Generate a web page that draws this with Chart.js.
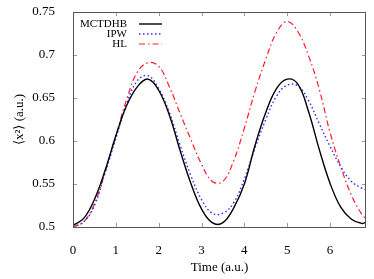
<!DOCTYPE html>
<html>
<head>
<meta charset="utf-8">
<script src="https://cdn.jsdelivr.net/npm/chart.js@4.4.1/dist/chart.umd.min.js"></script>
<style>
  html, body { margin: 0; padding: 0; background: #fff; }
  #wrap { width: 374px; height: 279px; }
</style>
</head>
<body>
<div id="wrap"><canvas id="xChart"></canvas></div>
<script>
// time grid (a.u.)
const times = [0, 0.25, 0.5, 0.75, 1, 1.25, 1.5, 1.75, 2, 2.25, 2.5, 2.75, 3, 3.25, 3.5,
    3.75, 4, 4.25, 4.5, 4.75, 5, 5.25, 5.5, 5.75, 6, 6.25, 6.5, 6.75, 6.84];

const mctdhb = [0.502, 0.510, 0.532, 0.566, 0.606, 0.641, 0.663, 0.672, 0.659, 0.630, 0.589,
    0.551, 0.521, 0.505, 0.505, 0.522, 0.550, 0.595, 0.633, 0.661, 0.672, 0.666, 0.634,
    0.590, 0.551, 0.523, 0.509, 0.504, 0.506];

const ipw = [0.500, 0.506, 0.525, 0.563, 0.603, 0.643, 0.670, 0.676, 0.661, 0.633, 0.595,
    0.560, 0.532, 0.516, 0.516, 0.528, 0.556, 0.592, 0.625, 0.652, 0.665, 0.664, 0.647,
    0.620, 0.594, 0.570, 0.553, 0.545, 0.543];

const hl = [0.500, 0.506, 0.527, 0.564, 0.606, 0.648, 0.680, 0.691, 0.687, 0.663, 0.632,
    0.602, 0.573, 0.553, 0.553, 0.577, 0.615, 0.658, 0.695, 0.726, 0.739, 0.727, 0.699,
    0.660, 0.610, 0.570, 0.537, 0.514, 0.510];

const xTicks = [0, 1, 2, 3, 4, 5, 6];
const yTicks = [0.5, 0.55, 0.6, 0.65, 0.7, 0.75];

const seriesNames = ["MCTDHB", "IPW", "HL"];
const seriesColors = ["#000000", "#2b2bff", "#ff1a2a"];
const seriesDash = [[], [1.5, 2.5], [6, 3, 1.5, 3]];
const seriesWidth = [1.4, 1.4, 1.2];
const seriesValues = [mctdhb, ipw, hl];

const serif = "'Liberation Serif', 'DejaVu Serif', serif";

// frame, inward ticks and the little legend
const framePlugin = {
    id: "frame",
    afterDraw(chart) {
        const { ctx, chartArea: a, scales } = chart;
        ctx.save();
        ctx.strokeStyle = "#9a9a9a";
        ctx.lineWidth = 1;
        xTicks.forEach((v) => {
            const px = Math.round(scales.x.getPixelForValue(v)) + 0.5;
            ctx.beginPath();
            ctx.moveTo(px, a.bottom); ctx.lineTo(px, a.bottom - 4);
            ctx.moveTo(px, a.top); ctx.lineTo(px, a.top + 4);
            ctx.stroke();
        });
        yTicks.forEach((v) => {
            const py = Math.round(scales.y.getPixelForValue(v)) + 0.5;
            ctx.beginPath();
            ctx.moveTo(a.left, py); ctx.lineTo(a.left + 4, py);
            ctx.moveTo(a.right, py); ctx.lineTo(a.right - 4, py);
            ctx.stroke();
        });
        ctx.strokeStyle = "#555";
        ctx.strokeRect(Math.round(a.left) + 0.5, Math.round(a.top) + 0.5,
            Math.round(a.right - a.left) - 1, Math.round(a.bottom - a.top));

        // legend
        ctx.font = "11px " + serif;
        ctx.textAlign = "right";
        ctx.textBaseline = "middle";
        seriesNames.forEach((name, i) => {
            const y = a.top + 12 + i * 10;
            ctx.fillStyle = "#000";
            ctx.fillText(name, a.left + 54, y);
            ctx.beginPath();
            ctx.strokeStyle = seriesColors[i];
            ctx.lineWidth = seriesWidth[i];
            ctx.setLineDash(seriesDash[i]);
            ctx.moveTo(a.left + 66, y);
            ctx.lineTo(a.left + 89, y);
            ctx.stroke();
        });
        ctx.restore();
    },
};

const ctx = document.getElementById("xChart").getContext("2d");

const xChart = new Chart(ctx, {
    type: "line",
    data: {
        datasets: seriesNames.map((name, i) => ({
            label: name,
            data: times.map((t, j) => ({ x: t, y: seriesValues[i][j] })),
            borderColor: seriesColors[i],
            borderWidth: seriesWidth[i],
            borderDash: seriesDash[i],
            pointRadius: 0,
            fill: false,
            tension: 0.4,
        })),
    },
    options: {
        responsive: true,
        maintainAspectRatio: false,
        animation: false,
        layout: { padding: { top: 12, right: 8, left: 0, bottom: 0 } },
        plugins: {
            legend: { display: false },
            tooltip: { enabled: false },
        },
        scales: {
            x: {
                type: "linear",
                min: 0,
                max: 6.84,
                afterBuildTicks: (scale) => {
                    scale.ticks = xTicks.map((v) => ({ value: v }));
                },
                afterFit: (scale) => {
                    scale.height = 52;
                    scale.paddingLeft = 0;
                    scale.paddingRight = 0;
                },
                grid: { display: false },
                border: { display: false },
                ticks: {
                    color: "#000",
                    padding: 8,
                    maxRotation: 0,
                    font: { family: serif, size: 13 },
                },
                title: {
                    display: true,
                    text: "Time (a.u.)",
                    color: "#000",
                    padding: { top: 9 },
                    font: { family: serif, size: 13 },
                },
            },
            y: {
                min: 0.5,
                max: 0.75,
                afterBuildTicks: (scale) => {
                    scale.ticks = yTicks.map((v) => ({ value: v }));
                },
                afterFit: (scale) => {
                    scale.width = 73;
                    scale.paddingTop = 0;
                    scale.paddingBottom = 0;
                },
                grid: { display: false },
                border: { display: false },
                ticks: {
                    color: "#000",
                    padding: 10,
                    font: { family: serif, size: 13 },
                    callback: (v) => String(Math.round(v * 100) / 100),
                },
                title: {
                    display: true,
                    text: "⟨x²⟩ (a.u.)",
                    color: "#000",
                    padding: { top: 12, bottom: 0 },
                    font: { family: serif, size: 13 },
                },
            },
        },
    },
    plugins: [framePlugin],
});
</script>
</body>
</html>
